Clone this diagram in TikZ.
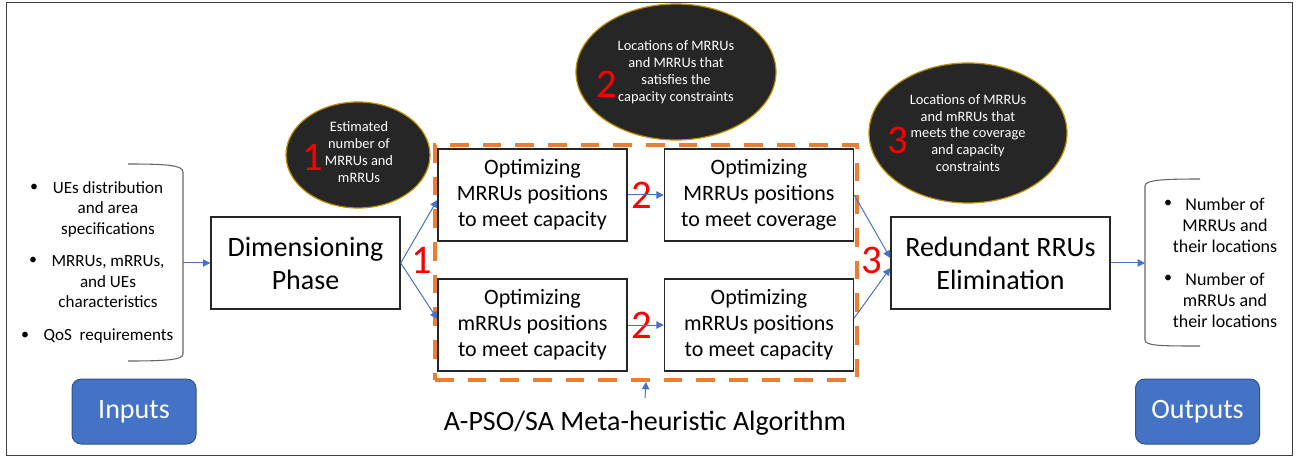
\documentclass[tikz,border=0pt]{standalone}
\usepackage{fontspec}
\setmainfont{Carlito}
\usetikzlibrary{arrows.meta,shapes.geometric}
\definecolor{oran}{HTML}{ED7D31}
\definecolor{blu}{HTML}{4472C4}
\definecolor{bluedge}{HTML}{2F528F}
\definecolor{dark}{HTML}{262626}
\definecolor{gold}{HTML}{BF9000}
\begin{document}
\begin{tikzpicture}[x=0.75pt,y=-0.75pt,
  box/.style={draw=dark, line width=1.1pt, fill=white, minimum width=141.75pt, minimum height=69pt, inner sep=0pt, align=center, font=\fontsize{16.5}{19.5}\selectfont},
  bigbox/.style={box, font=\fontsize{21}{24.75}\selectfont},
  bubble/.style={ellipse, draw=gold, line width=0.9pt, fill=dark, text=white, inner sep=0pt, align=center, font=\fontsize{10.8}{12.6}\selectfont},
  num/.style={text=red, font=\fontsize{30.5}{30}\selectfont, inner sep=0pt},
  arr/.style={draw=blu, line width=0.75pt, -{Triangle[length=5.5pt,width=5.5pt]}},
  btn/.style={rounded corners=7pt, draw=bluedge, line width=0.75pt, fill=blu, text=white, minimum width=93pt, minimum height=48.75pt, inner sep=0pt, font=\fontsize{21}{25}\selectfont},
  itm/.style={align=center, inner sep=0pt, font=\fontsize{12.8}{15.4}\selectfont},
  bul/.style={inner sep=0pt, font=\fontsize{12}{15}\selectfont},
  brk/.style={draw=black!60, line width=0.8pt},
  grpbox/.style={draw=oran, line width=3pt, dash pattern=on 14pt off 10.5pt, minimum width=316.5pt, minimum height=176.25pt, inner sep=0pt}
]
\useasboundingbox (0,0) rectangle (1297,456);
\draw[black!75, line width=0.75pt] (6,3) rectangle (1292,455);

% group
\node[grpbox] (grp) at (646,262.5) {};

% boxes
\node[bigbox] (dim) at (305.5,263) {Dimensioning\\Phase};
\node[box] (A) at (532.5,195) {Optimizing\\MRRUs positions\\to meet capacity};
\node[box] (B) at (759,195) {Optimizing\\MRRUs positions\\to meet coverage};
\node[box] (C) at (532.5,325) {Optimizing\\mRRUs positions\\to meet capacity};
\node[box] (D) at (759,325) {Optimizing\\mRRUs positions\\to meet capacity};
\node[bigbox, minimum width=164.25pt] (red) at (1000.5,263) {Redundant RRUs\\Elimination};

% bubbles
\node[bubble, minimum width=108pt, minimum height=79.5pt] (e1) at (358,155) {};
\node[align=center, text=white, inner sep=0pt, font=\fontsize{10.8}{12.6}\selectfont] (t1) at (359,152) {Estimated\\number of\\MRRUs and\\mRRUs};
\node[bubble, minimum width=150pt, minimum height=102pt] (e2) at (676,72) {Locations of MRRUs\\and MRRUs that\\satisfies the\\capacity constraints};
\node[bubble, minimum width=148.5pt, minimum height=105pt] (e3) at (968,133) {Locations of MRRUs\\and mRRUs that\\meets the coverage\\and capacity\\constraints};

% red numbers
\node[num] (n1a) at (313,157) {1};
\node[num] (n1b) at (422,260) {1};
\node[num] (n2a) at (607,84) {2};
\node[num] (n2b) at (642,195) {2};
\node[num] (n2c) at (642,325) {2};
\node[num] (n3a) at (872,260) {3};
\node[num] (n3b) at (898,140) {3};

% inputs
\draw[brk] (128,164) .. controls (165,164) and (183,165) .. (183,172) -- (183,354) .. controls (183,360) and (165,361) .. (128,361);
\node[bul] (ib1) at (34,188) {\textbullet};
\node[itm] (it1) at (108,209) {UEs distribution\\and area\\specifications};
\node[bul] (ib2) at (33,261) {\textbullet};
\node[itm] (it2) at (108,282) {MRRUs, mRRUs,\\and UEs\\characteristics};
\node[bul] (ib3) at (25,336) {\textbullet};
\node[itm] (it3) at (108.5,336) {QoS\ \ requirements};
\coordinate (inb) at (183,263);

% outputs
\draw[brk] (1200,179) .. controls (1162,179) and (1145,180) .. (1145,186) -- (1145,340) .. controls (1145,346) and (1162,346) .. (1200,346);
\node[bul] (ob1) at (1168,204) {\textbullet};
\node[itm, font=\fontsize{13.5}{15.8}\selectfont] (ot1) at (1225,225) {Number of\\MRRUs and\\their locations};
\node[bul] (ob2) at (1168,279) {\textbullet};
\node[itm, font=\fontsize{13.5}{15.8}\selectfont] (ot2) at (1225,300) {Number of\\mRRUs and\\their locations};
\coordinate (outb) at (1145,263);

% labels
\node[btn] (inp) at (134,411.5) {Inputs};
\node[btn] (outp) at (1197.5,411.5) {Outputs};
\node[inner sep=0pt, font=\fontsize{21}{25}\selectfont] (alg) at (645,423) {A-PSO/SA Meta-heuristic Algorithm};
\coordinate (algtop) at (645,398);

% connectors
\draw[arr] (inb) -- (dim.west);
\draw[arr] (dim.east) -- ([yshift=-3.75pt]A.west);
\draw[arr] (dim.east) -- ([yshift=4.5pt]C.west);
\draw[arr] (A.east) -- (B.west);
\draw[arr] (C.east) -- (D.west);
\draw[arr] (B.east) -- ([yshift=3.75pt]red.west);
\draw[arr] ([yshift=5.25pt]D.east) -- ([yshift=-3.75pt]red.west);
\draw[arr] (red.east) -- (outb);
\draw[arr] (algtop) -- (grp.south);
\end{tikzpicture}
\end{document}
